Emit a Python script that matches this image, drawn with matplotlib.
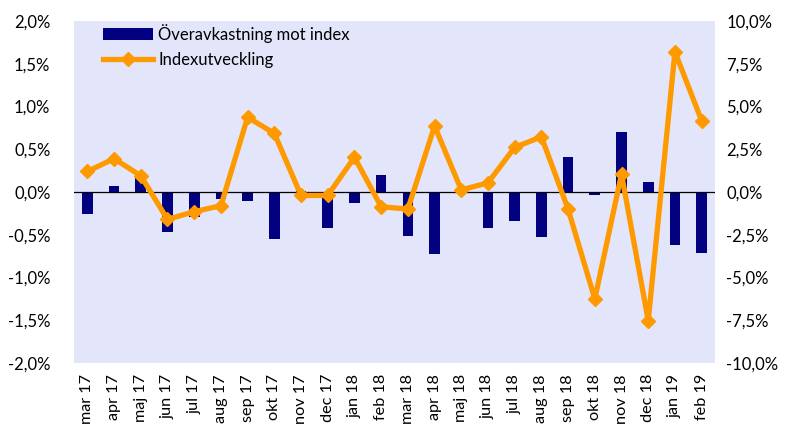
import matplotlib
matplotlib.use("Agg")
import matplotlib.pyplot as plt
from matplotlib.ticker import FuncFormatter
import numpy as np

months = ["mar 17", "apr 17", "maj 17", "jun 17", "jul 17", "aug 17", "sep 17", "okt 17",
          "nov 17", "dec 17", "jan 18", "feb 18", "mar 18", "apr 18", "maj 18", "jun 18",
          "jul 18", "aug 18", "sep 18", "okt 18", "nov 18", "dec 18", "jan 19", "feb 19"]

# Överavkastning mot index (%), left axis
excess = [-0.26, 0.07, 0.16, -0.47, -0.29, -0.08, -0.10, -0.55,
          0.01, -0.42, -0.13, 0.20, -0.52, -0.72, 0.0, -0.42,
          -0.34, -0.53, 0.41, -0.04, 0.70, 0.12, -0.62, -0.71]

# Indexutveckling (%), right axis
index_dev = [1.2, 1.95, 0.95, -1.6, -1.15, -0.8, 4.37, 3.43,
             -0.2, -0.2, 2.03, -0.86, -1.0, 3.86, 0.12, 0.54,
             2.61, 3.23, -1.0, -6.26, 1.05, -7.53, 8.2, 4.17]

left_ticks = [-2.0, -1.5, -1.0, -0.5, 0.0, 0.5, 1.0, 1.5, 2.0]
right_ticks = [-10.0, -7.5, -5.0, -2.5, 0.0, 2.5, 5.0, 7.5, 10.0]

plt.rcParams['font.family'] = ['Lato', 'DejaVu Sans']

fig = plt.figure(figsize=(7.87, 4.26), dpi=100)
ax = fig.add_axes([74/787, 1-363/426, (715-74)/787, (363-21)/426])
ax.set_facecolor('#E3E5FA')

x = np.arange(len(months))
ax.bar(x, excess, width=0.4, color='#000080', label='Överavkastning mot index', zorder=2)
ax.axhline(0, color='black', lw=0.9, zorder=3)
ax.set_ylim(-2.0, 2.0)
ax.set_xlim(-0.5, len(months) - 0.5)
ax.set_yticks(left_ticks)
fmt = lambda v, p: f"{v:.1f}%".replace('.', ',')
ax.yaxis.set_major_formatter(FuncFormatter(fmt))
ax.set_xticks(x)
ax.set_xticklabels(months, rotation=90)

ax2 = ax.twinx()
ax2.plot(x, index_dev, color='#FF9900', lw=3.8, marker='D', markersize=7,
         label='Indexutveckling', zorder=4)
ax2.set_ylim(-10.0, 10.0)
ax2.set_yticks(right_ticks)
ax2.yaxis.set_major_formatter(FuncFormatter(fmt))

for a in (ax, ax2):
    for s in a.spines.values():
        s.set_visible(False)
    a.tick_params(length=0, labelsize=12, colors='black')
ax.tick_params(axis='x', labelsize=11.7, pad=8)
ax.tick_params(axis='y', pad=17)
ax2.tick_params(axis='y', pad=8)

h1, l1 = ax.get_legend_handles_labels()
h2, l2 = ax2.get_legend_handles_labels()
leg = ax2.legend(h1 + h2, l1 + l2, loc='upper left', bbox_to_anchor=(0.022, 1.035),
                 frameon=False, fontsize=12, handlelength=3.0, labelspacing=0.55,
                 handletextpad=0.3)

fig.savefig('out.png', dpi=100)
